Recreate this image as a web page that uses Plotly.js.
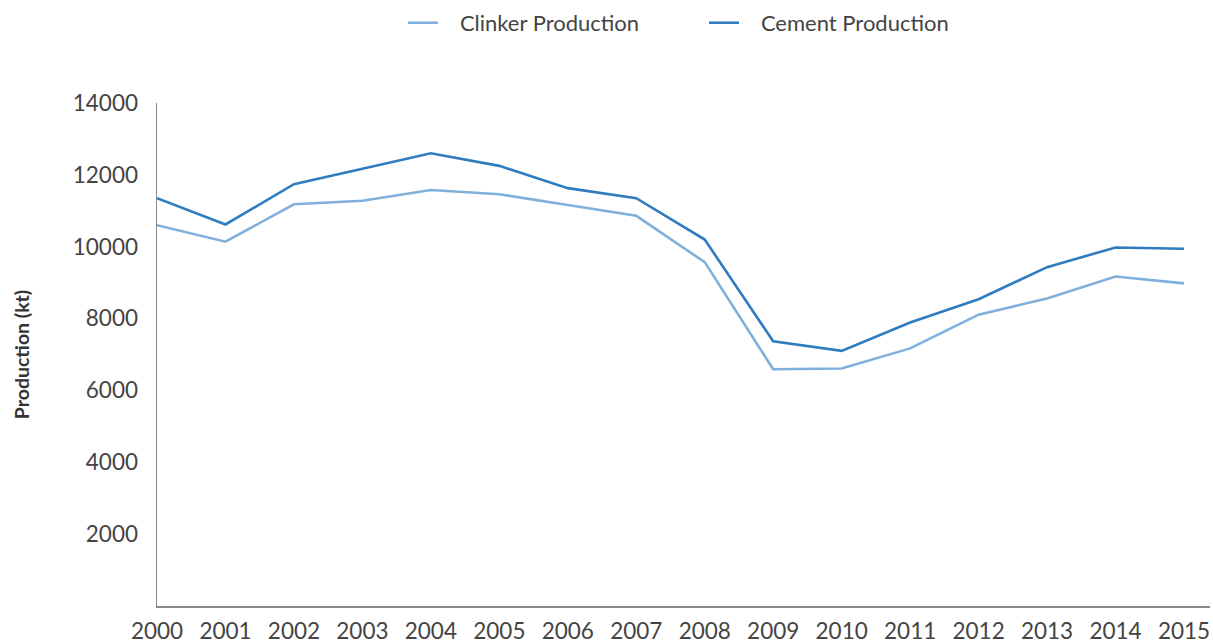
<!DOCTYPE html>
<html>
<head>
<meta charset="utf-8">
<script src="https://cdn.plot.ly/plotly-3.0.1.min.js"></script>
<style>html,body{margin:0;padding:0;background:#fff;}#chart{width:1213px;height:642px;}</style>
</head>
<body>
<div id="chart"></div>
<script>
const years = [2000,2001,2002,2003,2004,2005,2006,2007,2008,2009,2010,2011,2012,2013,2014,2015];
const clinker = [10600,10140,11180,11280,11580,11460,11160,10860,9570,6590,6610,7170,8110,8560,9170,8980];
const cement = [11350,10620,11740,12170,12600,12250,11630,11350,10200,7370,7100,7890,8540,9430,9980,9945];
const yTicks = [2000,4000,6000,8000,10000,12000,14000];

const data = [
  {x: years, y: clinker, type: 'scatter', mode: 'lines', name: '\u00a0\u00a0\u00a0Clinker Production',
   line: {color: '#7fb0dc', width: 2.6}},
  {x: years, y: cement, type: 'scatter', mode: 'lines', name: '\u00a0\u00a0\u00a0Cement Production',
   line: {color: '#2f7dc0', width: 2.6}}
];

const layout = {
  width: 1213, height: 642,
  margin: {l: 157, r: 3, t: 103, b: 36},
  paper_bgcolor: '#fff', plot_bgcolor: '#fff',
  font: {family: 'Lato, "Open Sans", sans-serif', color: '#444', size: 22},
  showlegend: true,
  legend: {orientation: 'h', x: 0.2336, xanchor: 'left', y: 0.997, yref: 'container', yanchor: 'top',
           font: {size: 22, color: '#444'}, entrywidth: 256, entrywidthmode: 'pixels', traceorder: 'normal'},
  xaxis: {
    range: [2000, 2015.38], tickvals: years, ticktext: years.map(String),
    showgrid: false, zeroline: false, showline: true, linecolor: '#8a8a8a', linewidth: 1.5,
    ticks: '', ticklabelstandoff: 4, tickfont: {size: 22.5, color: '#444'}
  },
  yaxis: {
    range: [0, 14000], tickvals: yTicks, ticktext: yTicks.map(String),
    showgrid: false, zeroline: false, showline: true, linecolor: '#8a8a8a', linewidth: 1.5,
    ticks: '', ticklabelstandoff: 13, tickfont: {size: 22.5, color: '#444'},
    title: {text: '<b>Production (kt)</b>', font: {size: 19.5, color: '#333'}, standoff: 38}
  }
};

Plotly.newPlot('chart', data, layout, {displayModeBar: false, staticPlot: true});
</script>
</body>
</html>
